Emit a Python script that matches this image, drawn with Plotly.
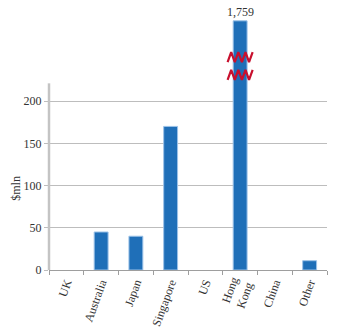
import plotly.graph_objects as go

categories = ["UK", "Australia", "Japan", "Singapore", "US", "Hong Kong", "China", "Other"]
tick_labels = ["UK", "Australia", "Japan", "Singapore", "US", "Hong<br>Kong", "China", "Other"]
values = [0, 45, 40, 170, 0, 1759, 0, 11]
y_ticks = [0, 50, 100, 150, 200]

AXIS_TOP = 221      # where the visible y axis stops
BREAK_LOW = 231     # lower zigzag centre (axis units)
BREAK_HIGH = 252    # upper zigzag centre
BAR_CAP = 295       # drawn height of the broken bar
Y_MAX = 296

display = [None if v == 0 else (v if v <= AXIS_TOP else BAR_CAP) for v in values]

FONT = "Times New Roman"
BAR = "#1f6fb8"
GRID = "#bdbdbd"
RED = "#c8102e"

fig = go.Figure()
fig.add_trace(go.Bar(
    x=categories, y=display,
    marker=dict(color=BAR, line=dict(color="#9cc2e8", width=1)),
    width=0.4, hoverinfo="skip", showlegend=False,
))

# value label on broken bar
for c, v, d in zip(categories, values, display):
    if v > AXIS_TOP:
        fig.add_annotation(x=c, y=d, text=f"{v:,}", showarrow=False,
                           yanchor="bottom", yshift=0,
                           font=dict(family=FONT, size=12, color="#333"))

# zigzag break marks on an overlay numeric x axis
idx = [i for i, v in enumerate(values) if v > AXIS_TOP]
for i in idx:
    for yc in (BREAK_LOW, BREAK_HIGH):
        n = 7
        xs = [i - 0.36 + 0.72 * k / n for k in range(n + 1)]
        ys = [yc + (6 if k % 2 else -6) for k in range(n + 1)]
        fig.add_trace(go.Scatter(x=xs, y=ys, xaxis="x2", mode="lines",
                                 line=dict(color=RED, width=2.2),
                                 hoverinfo="skip", showlegend=False))

# y axis line only up to AXIS_TOP
fig.add_shape(type="line", xref="paper", yref="y", x0=0, x1=0, y0=0, y1=AXIS_TOP,
              line=dict(color="#c4c4c4", width=2.5), layer="above")

fig.add_annotation(xref="paper", yref="y", x=-0.12, y=97, text="$mln",
                   textangle=-90, showarrow=False, xanchor="center", yanchor="middle",
                   font=dict(family=FONT, size=12, color="#333"))

fig.update_layout(
    width=340, height=330,
    margin=dict(l=49, r=13, t=20, b=60),
    paper_bgcolor="white", plot_bgcolor="white",
    font=dict(family=FONT, size=12, color="#333"),
    bargap=0.6,
    xaxis=dict(type="category", tickvals=categories, ticktext=tick_labels,
               tickangle=-70, showgrid=False, showline=True, linecolor="#9e9e9e",
               linewidth=1, ticks="outside", tickson="boundaries", ticklen=4,
               tickcolor="#9e9e9e", range=[-0.5, 7.5], fixedrange=True,
               automargin=False),
    xaxis2=dict(overlaying="x", range=[-0.5, 7.5], visible=False),
    yaxis=dict(range=[0, Y_MAX], tickvals=y_ticks, showgrid=True, gridcolor=GRID,
               gridwidth=1, zeroline=False, showline=False, ticks="outside",
               ticklen=4, tickcolor=GRID, automargin=False),
)

fig.write_html("out.html")
